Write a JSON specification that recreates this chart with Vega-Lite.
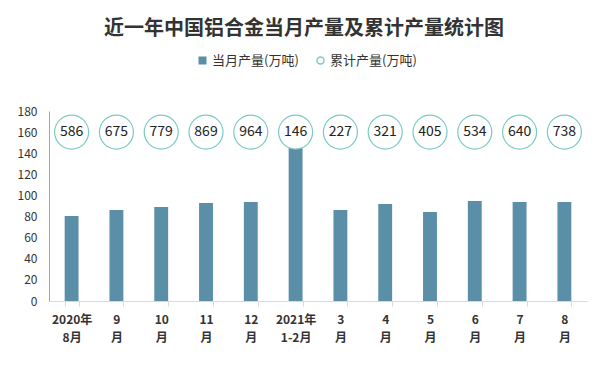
{
  "$schema": "https://vega.github.io/schema/vega-lite/v6.json",
  "autosize": "none",
  "width": 538,
  "height": 190,
  "padding": {"left": 49, "top": 111, "right": 29, "bottom": 68},
  "background": "white",
  "config": {
    "view": {"stroke": null},
    "font": "Noto Sans CJK SC",
    "axisY": {
      "labelOverlap": false,
      "grid": false,
      "ticks": false,
      "labelFont": "Noto Sans CJK SC",
      "labelFontSize": 12,
      "labelColor": "#333333",
      "labelPadding": 12,
      "domainColor": "#a6a6a6"
    }
  },
  "title": {
    "text": "近一年中国铝合金当月产量及累计产量统计图",
    "font": "Noto Sans CJK SC",
    "fontSize": 20,
    "fontWeight": "bold",
    "color": "#333333",
    "anchor": "middle",
    "dx": -14,
    "offset": 15
  },
  "data": {
    "values": [
      {"month": "2020年|8月", "monthly": 80.5, "cum": 586},
      {"month": "9|月", "monthly": 86.2, "cum": 675},
      {"month": "10|月", "monthly": 89, "cum": 779},
      {"month": "11|月", "monthly": 92.8, "cum": 869},
      {"month": "12|月", "monthly": 93.8, "cum": 964},
      {"month": "2021年|1-2月", "monthly": 145, "cum": 146},
      {"month": "3|月", "monthly": 86.2, "cum": 227},
      {"month": "4|月", "monthly": 91.9, "cum": 321},
      {"month": "5|月", "monthly": 84.3, "cum": 405},
      {"month": "6|月", "monthly": 94.7, "cum": 534},
      {"month": "7|月", "monthly": 93.8, "cum": 640},
      {"month": "8|月", "monthly": 93.8, "cum": 738}
    ]
  },
  "encoding": {
    "x": {
      "field": "month",
      "type": "nominal",
      "sort": null,
      "scale": {"paddingInner": 0.69, "paddingOuter": 0.35},
      "axis": {
        "title": null,
        "labelAngle": 0,
        "labelExpr": "split(datum.label, '|')",
        "labelFont": "Noto Sans CJK SC",
        "labelFontSize": 12,
        "labelFontWeight": "bold",
        "labelColor": "#333333",
        "labelLineHeight": 18,
        "labelPadding": 8,
        "domainColor": "#d9d9d9",
        "tickColor": "#d9d9d9",
        "tickSize": 5,
        "tickBand": "extent"
      }
    }
  },
  "layer": [
    {
      "mark": {"type": "bar"},
      "encoding": {
        "y": {
          "field": "monthly",
          "type": "quantitative",
          "scale": {"domain": [0, 180]},
          "axis": {"title": null, "values": [0, 20, 40, 60, 80, 100, 120, 140, 160, 180]}
        },
        "fill": {
          "datum": "当月产量(万吨)",
          "type": "nominal",
          "scale": {"range": ["#5b8fa8"]},
          "legend": {
            "title": null,
            "orient": "none",
            "legendX": 147,
            "legendY": -57,
            "labelFont": "Noto Sans CJK SC",
            "labelFontSize": 13,
            "labelColor": "#333333",
            "labelOffset": 3,
            "symbolType": "square",
            "symbolSize": 64
          }
        }
      }
    },
    {
      "mark": {"type": "point", "filled": false, "fill": "white", "fillOpacity": 1, "size": 1156, "strokeWidth": 1.2, "opacity": 1},
      "encoding": {
        "y": {
          "datum": 160,
          "type": "quantitative",
          "axis": {"title": null, "values": [0, 20, 40, 60, 80, 100, 120, 140, 160, 180]}
        },
        "stroke": {
          "datum": "累计产量(万吨)",
          "type": "nominal",
          "scale": {"range": ["#7ccbc4"]},
          "legend": {
            "title": null,
            "orient": "none",
            "legendX": 265,
            "legendY": -57,
            "labelFont": "Noto Sans CJK SC",
            "labelFontSize": 13,
            "labelColor": "#333333",
            "labelOffset": 3,
            "symbolType": "circle",
            "symbolSize": 49,
            "symbolFillColor": "white",
            "symbolStrokeWidth": 1.5
          }
        }
      }
    },
    {
      "mark": {"type": "text", "font": "Noto Sans CJK SC", "fontSize": 14, "color": "#222222"},
      "encoding": {
        "y": {
          "datum": 160,
          "type": "quantitative",
          "axis": {"title": null, "values": [0, 20, 40, 60, 80, 100, 120, 140, 160, 180]}
        },
        "text": {"field": "cum", "type": "quantitative"}
      }
    }
  ]
}
